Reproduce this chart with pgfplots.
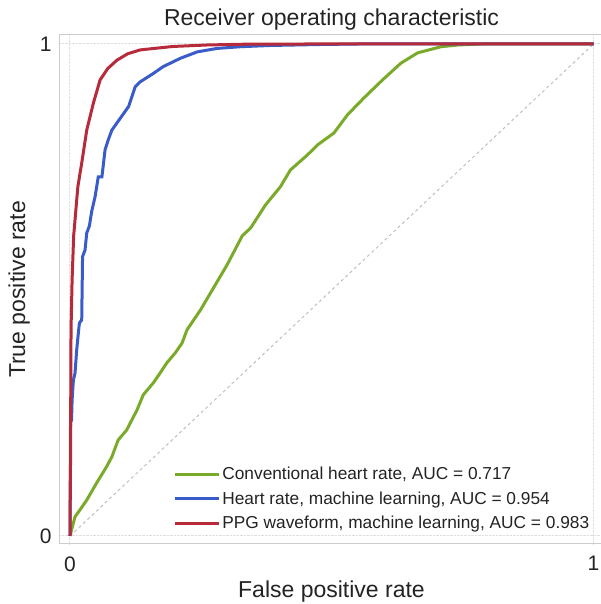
\documentclass[border=0pt]{standalone}
\usepackage{pgfplots}
\pgfplotsset{compat=1.18}
\usepackage{fontspec}
\setmainfont{Liberation Sans}
\definecolor{rocgreen}{RGB}{122,170,42}
\definecolor{rocblue}{RGB}{58,92,200}
\definecolor{rocred}{RGB}{182,42,58}
\definecolor{txt}{RGB}{35,35,35}
\begin{document}
\begin{tikzpicture}
\begin{axis}[
  at={(59pt,60pt)}, anchor=south west,
  scale only axis, width=545pt, height=509pt,
  xmin=-0.021, xmax=1.02, ymin=-0.0163, ymax=1.0183,
  xtick={0,1}, ytick={0,1},
  major tick length=0pt,
  grid=major,
  major grid style={densely dotted, gray!25, line width=1pt},
  axis line style={gray!40, line width=1pt},
  /pgf/number format/assume math mode=true,
  tick label style={font=\fontsize{21}{21}\selectfont, text=txt},
  yticklabel style={xshift=-4pt},
  xticklabel style={yshift=-9pt},
  title={Receiver operating characteristic},
  title style={font=\fontsize{23}{23}\selectfont, text=txt, yshift=-5pt},
  xlabel={False positive rate},
  ylabel={True positive rate},
  label style={font=\fontsize{23}{23}\selectfont, text=txt},
  xlabel style={yshift=-3pt},
  ylabel style={yshift=3pt},
  legend style={at={(0.204,0.159)}, anchor=north west, draw=none, fill=none,
    font=\fontsize{17.3}{17.3}\selectfont, text=txt, row sep=6.5pt},
  legend cell align=left,
  legend image code/.code={\path (0pt,0pt) -- (44pt,0pt);
    \draw[#1] (0pt,0pt) -- (37pt,0pt);},
]
% diagonal
\addplot[gray!50, dashed, line width=1pt, forget plot] coordinates {(0,0) (1,1)};
% Conventional heart rate
\addplot[rocgreen, line width=3pt] coordinates {
(0,0) (0.0096,0.039) (0.019,0.053) (0.032,0.073) (0.051,0.108) (0.070,0.141)
(0.080,0.161) (0.092,0.195) (0.108,0.215) (0.128,0.256) (0.140,0.287)
(0.159,0.311) (0.172,0.331) (0.185,0.352) (0.201,0.372) (0.214,0.392)
(0.2235,0.419) (0.249,0.459) (0.274,0.504) (0.300,0.551) (0.329,0.610)
(0.345,0.626) (0.3735,0.673) (0.402,0.710) (0.421,0.744) (0.453,0.774)
(0.473,0.795) (0.504,0.819) (0.530,0.856) (0.561,0.890) (0.597,0.927)
(0.632,0.961) (0.664,0.982) (0.709,0.9945) (0.741,0.998) (0.785,1) (1,1)
};
% Heart rate, machine learning
\addplot[rocblue, line width=3pt] coordinates {
(0,0) (0.001,0.23) (0.003,0.236) (0.004,0.276) (0.0065,0.317) (0.0096,0.331)
(0.0128,0.378) (0.016,0.413) (0.018,0.433) (0.0224,0.439) (0.024,0.568)
(0.0287,0.581) (0.032,0.616) (0.037,0.63) (0.0415,0.66) (0.048,0.69)
(0.054,0.73) (0.061,0.73) (0.067,0.785) (0.073,0.805) (0.080,0.825)
(0.096,0.849) (0.112,0.873) (0.1245,0.913) (0.134,0.923) (0.159,0.940)
(0.178,0.954) (0.211,0.971) (0.243,0.984) (0.281,0.991) (0.326,0.9945)
(0.383,0.997) (0.479,0.999) (0.55,1) (1,1)
};
% PPG waveform, machine learning
\addplot[rocred, line width=3pt] coordinates {
(0,0) (0.001,0.15) (0.0015,0.3) (0.002,0.42) (0.004,0.52) (0.007,0.61)
(0.011,0.66) (0.015,0.71) (0.0224,0.758) (0.032,0.825) (0.0447,0.880)
(0.0575,0.927) (0.072,0.950) (0.0895,0.967) (0.11,0.980) (0.134,0.988)
(0.197,0.995) (0.262,0.998) (0.33,0.9995) (0.45,1) (1,1)
};
\legend{Conventional heart rate{,} AUC = 0.717,
        Heart rate{,} machine learning{,} AUC = 0.954,
        PPG waveform{,} machine learning{,} AUC = 0.983}
\end{axis}
\pgfresetboundingbox
\path[use as bounding box] (0,0) rectangle (601pt,604pt);
\end{tikzpicture}
\end{document}
